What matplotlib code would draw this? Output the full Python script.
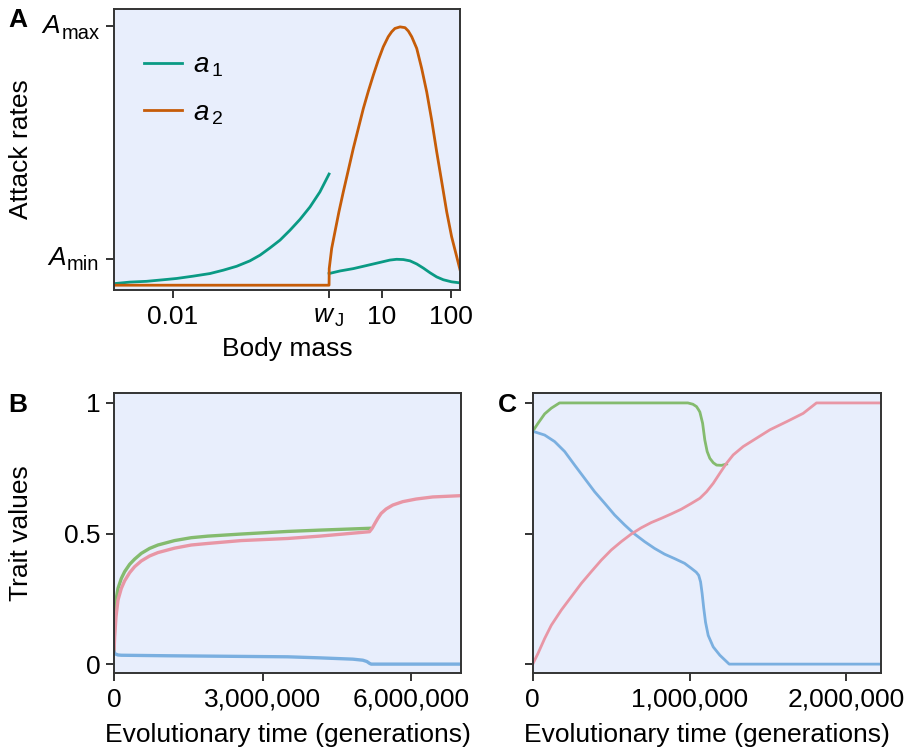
import numpy as np
import matplotlib
matplotlib.use("Agg")
import matplotlib.pyplot as plt

plt.rcParams["font.family"] = ["Liberation Sans", "DejaVu Sans"]
plt.rcParams["mathtext.fontset"] = "custom"
plt.rcParams["mathtext.rm"] = "Liberation Sans"
plt.rcParams["mathtext.it"] = "Liberation Sans:italic"

# ---- panel A: size-dependent attack rates ----
w_min, w_max = 0.00142, 134.6
w_J = 1.76
A_min, A_max = 0.1, 1.0

# a1 on juvenile sizes (below w_J)
w_a1_juv = [0.00142, 0.00240, 0.00418, 0.00726, 0.0113, 0.0196, 0.0341, 0.0530,
            0.0824, 0.128, 0.179, 0.249, 0.347, 0.482, 0.672, 0.936, 1.30, 1.76]
a1_juv = [0.006, 0.012, 0.015, 0.021, 0.026, 0.035, 0.045, 0.058,
          0.073, 0.094, 0.116, 0.144, 0.174, 0.212, 0.254, 0.302, 0.360, 0.429]
# a1 on adult sizes (above w_J)
w_a1_ad = [1.76, 2.53, 3.93, 6.12, 9.51, 13.2, 16.5, 20.6, 25.7, 32.1, 40.0,
           49.9, 62.2, 77.6, 102, 134.6]
a1_ad = [0.045, 0.055, 0.064, 0.076, 0.088, 0.097, 0.100, 0.099, 0.094, 0.082,
         0.066, 0.048, 0.032, 0.021, 0.013, 0.009]
# a2: zero for juveniles, hump for adults
w_a2 = [0.00142, 1.76, 1.77, 1.92, 2.14, 2.44, 2.82, 3.33, 3.93, 4.64, 5.48,
        6.47, 7.63, 9.00, 10.6, 12.5, 14.0, 15.6, 18.5, 21.8, 24.3, 27.2, 32.1,
        37.8, 44.7, 52.7, 62.2, 73.5, 86.7, 102, 121, 134.6]
a2 = [0.0, 0.0, 0.064, 0.142, 0.206, 0.283, 0.360, 0.444, 0.528, 0.605, 0.682,
      0.749, 0.811, 0.869, 0.920, 0.959, 0.978, 0.991, 0.997, 0.994, 0.981,
      0.959, 0.914, 0.837, 0.746, 0.637, 0.515, 0.399, 0.283, 0.187, 0.109, 0.060]

# ---- panel B: trait evolution, run 1 ----
t_green_b = [0, 13400, 40300, 80500, 147600, 214800, 315400, 416100, 550300,
             718100, 885900, 1221500, 1557000, 1892600, 2563700, 3503300,
             4147600, 5154300]
green_b = [0.047, 0.169, 0.245, 0.290, 0.328, 0.354, 0.382, 0.402, 0.424,
           0.443, 0.456, 0.473, 0.484, 0.490, 0.498, 0.508, 0.513, 0.520]
t_pink_b = [0, 13400, 40300, 80500, 147600, 214800, 315400, 416100, 550300,
            718100, 885900, 1221500, 1557000, 1892600, 2563700, 3503300,
            4147600, 5154300, 5208000, 5255000, 5322000, 5389000, 5490000,
            5624000, 5825000, 6094000, 6429000, 7000000]
pink_b = [0.047, 0.105, 0.181, 0.245, 0.290, 0.319, 0.350, 0.373, 0.395,
          0.414, 0.427, 0.444, 0.456, 0.462, 0.473, 0.481, 0.490, 0.507,
          0.520, 0.536, 0.558, 0.577, 0.594, 0.609, 0.622, 0.632, 0.640, 0.645]
t_blue_b = [0, 13400, 80500, 147600, 1076000, 3503000, 4147600, 4818800,
            5020000, 5101000, 5154300, 5188000, 7000000]
blue_b = [0.047, 0.040, 0.035, 0.034, 0.032, 0.028, 0.024, 0.019, 0.015,
          0.010, 0.003, 0.0, 0.0]

# ---- panel C: trait evolution, run 2 ----
t_green_c = [0, 33800, 76200, 118700, 171000, 989000, 1021000, 1044000,
             1057000, 1065600, 1083000, 1097000, 1112000, 1129000, 1151000,
             1172000, 1204000, 1236000]
green_c = [0.891, 0.922, 0.958, 0.980, 1.0, 1.0, 0.995, 0.986, 0.974, 0.965,
           0.922, 0.858, 0.814, 0.788, 0.771, 0.762, 0.761, 0.766]
t_blue_c = [0, 8300, 76200, 139900, 203600, 267300, 331000, 394700, 458400,
            522100, 585800, 649500, 713200, 776900, 840600, 904300, 968000,
            1010400, 1042200, 1058000, 1070000, 1080000, 1090000, 1101700,
            1118600, 1150500, 1193000, 1252400, 2220000]
blue_c = [0.891, 0.890, 0.877, 0.852, 0.814, 0.762, 0.711, 0.660, 0.616,
          0.571, 0.533, 0.498, 0.469, 0.443, 0.421, 0.404, 0.386, 0.367,
          0.352, 0.340, 0.315, 0.270, 0.215, 0.160, 0.110, 0.066, 0.034,
          0.0, 0.0]
t_pink_c = [0, 33800, 76200, 118700, 182400, 246100, 309800, 373400, 437100,
            500800, 564500, 628200, 691900, 755600, 819300, 883000, 946700,
            1010400, 1065600, 1108100, 1150500, 1193000, 1235500, 1277900,
            1341600, 1426600, 1511500, 1617600, 1723800, 1808700, 2220000]
pink_c = [0.0, 0.041, 0.098, 0.149, 0.207, 0.258, 0.309, 0.354, 0.398,
          0.437, 0.469, 0.498, 0.522, 0.542, 0.558, 0.575, 0.593, 0.615,
          0.635, 0.660, 0.692, 0.731, 0.769, 0.801, 0.833, 0.865, 0.897,
          0.928, 0.960, 1.0, 1.0]

bg = "#e8eefc"
spine_col = "#333333"
teal = "#0a9a84"
orange = "#c65c08"
green = "#84bb6e"
pink = "#e896a5"
blue = "#7aafe0"
fs = 19
lw = 2.0

fig = plt.figure(figsize=(9.15, 7.49), dpi=100)
W, H = 915, 749
axA = fig.add_axes([114 / W, 1 - 290 / H, 346 / W, 281 / H])
axB = fig.add_axes([114 / W, 1 - 673 / H, 347 / W, 280 / H])
axC = fig.add_axes([532.7 / W, 1 - 673 / H, 348.3 / W, 280 / H])

for ax in (axA, axB, axC):
    ax.set_facecolor(bg)
    for s in ax.spines.values():
        s.set_color(spine_col)
        s.set_linewidth(1.4)
    ax.tick_params(direction="out", length=5.5, width=1.4, color=spine_col,
                   labelsize=fs)
    ax.tick_params(axis="x", pad=5)
    ax.tick_params(axis="y", pad=4)

# panel A
axA.plot(w_a1_juv, a1_juv, color=teal, lw=lw, label=r"$a_{\,1}$")
axA.plot(w_a1_ad, a1_ad, color=teal, lw=lw)
axA.plot(w_a2, a2, color=orange, lw=lw, label=r"$a_{\,2}$")
axA.set_xscale("log")
axA.set_xlim(w_min, w_max)
axA.set_ylim(-0.0185, 1.066)
axA.set_xticks([0.01, w_J, 10, 100])
axA.set_xticklabels(["0.01", r"$w_{\,\mathrm{J}}$", "10", "100"])
axA.minorticks_off()
axA.set_yticks([A_min, A_max])
axA.set_yticklabels(["", ""])
# A_min / A_max tick labels: italic A followed by a smaller, lowered suffix
for val, sub, dy in [(A_max, "max", -9.0), (A_min, "min", -8.0)]:
    suffix = axA.annotate(sub, xy=(0, val), xycoords=axA.get_yaxis_transform(),
                          xytext=(-10.5, dy), textcoords="offset points",
                          ha="right", va="baseline", fontsize=14.5)
    axA.annotate("A", xy=(0, 0), xycoords=suffix, xytext=(-1.0, 6.8),
                 textcoords="offset points", ha="right", va="baseline",
                 fontsize=fs, fontstyle="italic")
axA.set_xlabel("Body mass", fontsize=fs, labelpad=6)
axA.set_ylabel("Attack rates", fontsize=fs)
axA.yaxis.label.set_rotation_mode("default")
axA.yaxis.label.set_va("center")
axA.yaxis.set_label_coords((21 - 114) / 346, 0.5)
axA.legend(loc="upper left", bbox_to_anchor=(0.055, 0.884), frameon=False,
           fontsize=fs + 1, handlelength=1.35, handletextpad=0.4,
           labelspacing=0.75, borderaxespad=0)

# panel B
axB.plot(t_green_b, green_b, color=green, lw=lw + 0.4)
axB.plot(t_pink_b, pink_b, color=pink, lw=lw + 0.4)
axB.plot(t_blue_b, blue_b, color=blue, lw=lw + 0.4)
axB.set_xlim(0, 7000000)
axB.set_ylim(-0.034, 1.038)
axB.set_xticks([0, 3000000, 6000000])
axB.set_xticklabels(["0", "3,000,000", "6,000,000"])
axB.set_yticks([0, 0.5, 1])
axB.set_yticklabels(["0", "0.5", "1"])
axB.set_xlabel("Evolutionary time (generations)", fontsize=fs, labelpad=8)
axB.set_ylabel("Trait values", fontsize=fs)
axB.yaxis.label.set_rotation_mode("default")
axB.yaxis.label.set_va("center")
axB.yaxis.set_label_coords((21 - 114) / 347, 0.5)

# panel C
axC.plot(t_green_c, green_c, color=green, lw=lw)
axC.plot(t_blue_c, blue_c, color=blue, lw=lw)
axC.plot(t_pink_c, pink_c, color=pink, lw=lw)
axC.set_xlim(0, 2220000)
axC.set_ylim(-0.034, 1.038)
axC.set_xticks([0, 1000000, 2000000])
axC.set_xticklabels(["0", "1,000,000", "2,000,000"])
axC.set_yticks([0, 0.5, 1])
axC.set_yticklabels([])
axC.set_xlabel("Evolutionary time (generations)", fontsize=fs, labelpad=8)

fig.text(8 / W, 1 - 8 / H, "A", fontsize=fs, fontweight="bold", va="top", ha="left")
fig.text(8 / W, 1 - 393 / H, "B", fontsize=fs, fontweight="bold", va="top", ha="left")
fig.text(498 / W, 1 - 393 / H, "C", fontsize=fs, fontweight="bold", va="top", ha="left")

fig.savefig("out.png", dpi=100)
